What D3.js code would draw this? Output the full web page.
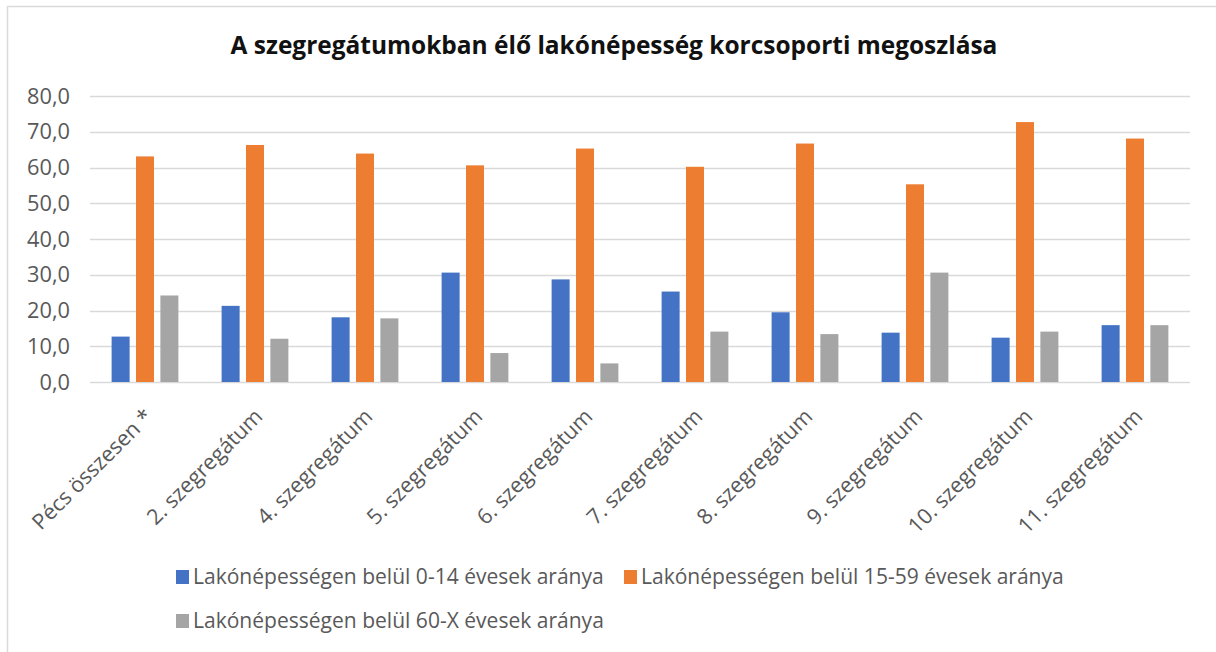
<!DOCTYPE html>
<html lang="hu">
<head>
<meta charset="UTF-8">
<title>A szegregátumokban élő lakónépesség korcsoporti megoszlása</title>
<script src="https://d3js.org/d3.v7.min.js"></script>
<style>
    body { margin: 0; background: #fff; }
    svg { display: block; font-family: 'Open Sans', 'Noto Sans', sans-serif; }
    .grid line { stroke: #d9d9d9; stroke-width: 1.5px; }
    .tick-label { fill: #595959; }
</style>
</head>
<body>
<div id="chart"></div>
<script>
    // Data
    const categories = ["Pécs összesen *", "2. szegregátum", "4. szegregátum", "5. szegregátum",
        "6. szegregátum", "7. szegregátum", "8. szegregátum", "9. szegregátum",
        "10. szegregátum", "11. szegregátum"];
    const seriesNames = ["Lakónépességen belül 0-14 évesek aránya",
        "Lakónépességen belül 15-59 évesek aránya",
        "Lakónépességen belül 60-X évesek aránya"];
    const age0_14 = [12.7, 21.3, 18.1, 30.6, 28.7, 25.3, 19.5, 13.8, 12.4, 15.9];
    const age15_59 = [63.1, 66.3, 63.9, 60.6, 65.3, 60.2, 66.7, 55.3, 72.7, 68.1];
    const age60_x = [24.2, 12.1, 17.8, 8.1, 5.2, 14.1, 13.4, 30.6, 14.1, 15.9];
    const yTicks = [0, 10, 20, 30, 40, 50, 60, 70, 80];
    const colors = ["#4472c4", "#ed7d31", "#a5a5a5"];

    const seriesValues = [age0_14, age15_59, age60_x];

    const width = 1216, height = 652;
    const svg = d3.select("#chart").append("svg")
        .attr("width", width)
        .attr("height", height);

    // chart frame (only top and left edges are visible in the crop)
    svg.append("path")
        .attr("d", `M7.5,${height} L7.5,6.5 L${width},6.5`)
        .attr("fill", "none")
        .attr("stroke", "#d9d9d9")
        .attr("stroke-width", 1.5);

    // scale text so it takes the given width
    function fitWidth(sel, target) {
        const w = sel.node().getComputedTextLength();
        const fs = parseFloat(sel.attr("font-size"));
        return fs * target / w;
    }

    // Title
    const title = svg.append("text")
        .attr("x", 614)
        .attr("y", 54)
        .attr("text-anchor", "middle")
        .attr("font-weight", "bold")
        .attr("font-size", 22)
        .attr("fill", "#111")
        .text("A szegregátumokban élő lakónépesség korcsoporti megoszlása");
    title.attr("font-size", fitWidth(title, 767));

    // Scales
    const x0 = d3.scaleBand()
        .domain(categories)
        .range([90, 1190])
        .paddingInner(0.393)
        .paddingOuter(0.1965);

    const x1 = d3.scaleBand()
        .domain(d3.range(seriesNames.length))
        .range([0, x0.bandwidth()])
        .paddingInner(0.262);

    const y = d3.scaleLinear()
        .domain([0, 80])
        .range([382, 96]);

    // Gridlines
    svg.append("g")
        .attr("class", "grid")
        .selectAll("line")
        .data(yTicks)
        .join("line")
        .attr("x1", 90)
        .attr("x2", 1190)
        .attr("y1", d => Math.round(y(d)) + 0.5)
        .attr("y2", d => Math.round(y(d)) + 0.5);

    // Y axis labels
    const fmt = d => d3.format(".1f")(d).replace(".", ",");
    const probe = svg.append("text").attr("font-size", 20).text("80,0");
    const yFs = fitWidth(probe, 43);
    probe.remove();
    svg.append("g")
        .selectAll("text")
        .data(yTicks)
        .join("text")
        .attr("class", "tick-label")
        .attr("x", 70)
        .attr("y", d => y(d))
        .attr("dy", "0.35em")
        .attr("text-anchor", "end")
        .attr("font-size", yFs)
        .text(fmt);

    // Bars
    const groups = svg.append("g")
        .selectAll("g")
        .data(categories)
        .join("g")
        .attr("transform", d => `translate(${x0(d)},0)`);

    groups.selectAll("rect")
        .data((d, i) => seriesValues.map((vals, s) => ({ s, v: vals[i] })))
        .join("rect")
        .attr("x", d => x1(d.s))
        .attr("width", x1.bandwidth())
        .attr("y", d => y(d.v))
        .attr("height", d => y(0) - y(d.v))
        .attr("fill", d => colors[d.s]);

    // X axis labels, rotated
    const probe2 = svg.append("text").attr("font-size", 20).text("2. szegregátum");
    const xFs = fitWidth(probe2, 153);
    probe2.remove();
    svg.append("g")
        .selectAll("text")
        .data(categories)
        .join("text")
        .attr("class", "tick-label")
        .attr("transform", d => `translate(${x0(d) + x0.bandwidth() / 2 - 2},407) rotate(-45)`)
        .attr("text-anchor", "end")
        .attr("dy", "0.72em")
        .attr("font-size", xFs)
        .text(d => d);

    // Legend
    const probe3 = svg.append("text").attr("font-size", 20).text(seriesNames[0]);
    const lFs = fitWidth(probe3, 411);
    probe3.remove();
    const legendPos = [[176, 577], [624, 577], [176, 621]];
    const legend = svg.append("g")
        .selectAll("g")
        .data(seriesNames)
        .join("g")
        .attr("transform", (d, i) => `translate(${legendPos[i][0]},${legendPos[i][1]})`);
    legend.append("rect")
        .attr("x", 0)
        .attr("y", -7)
        .attr("width", 13)
        .attr("height", 14)
        .attr("fill", (d, i) => colors[i]);
    legend.append("text")
        .attr("class", "tick-label")
        .attr("x", 17)
        .attr("y", 0)
        .attr("dy", "0.35em")
        .attr("font-size", lFs)
        .text(d => d);
</script>
</body>
</html>
